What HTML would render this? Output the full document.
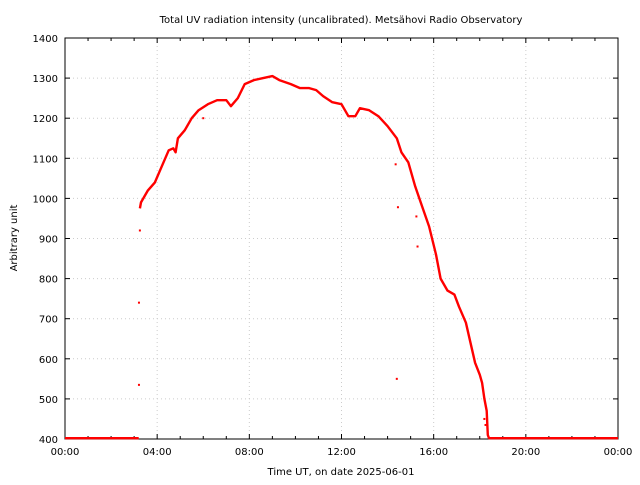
<!DOCTYPE html>
<html><head><meta charset="utf-8"><style>
body{margin:0;background:#fff}
svg text{font-family:"DejaVu Sans","Liberation Sans",sans-serif;font-size:10px;fill:#000}
</style></head><body>
<svg id="c" width="640" height="480" xmlns="http://www.w3.org/2000/svg">
<rect width="640" height="480" fill="#fff"/>
<text x="341" y="23" text-anchor="middle">Total UV radiation intensity (uncalibrated). Metsähovi Radio Observatory</text>
<text x="341" y="475" text-anchor="middle">Time UT, on date 2025-06-01</text>
<text transform="translate(17,238) rotate(-90)" text-anchor="middle">Arbitrary unit</text>
<g id="grid"></g><g id="axes"></g><g id="marks"></g>
</svg>
<script>
const hours=[0,3.2,3.25,3.3,3.6,3.9,4.2,4.5,4.7,4.8,4.9,5.2,5.5,5.8,6.2,6.6,7.0,7.2,7.5,7.8,8.2,8.6,9.0,9.3,9.8,10.2,10.6,10.9,11.2,11.6,12.0,12.3,12.6,12.8,13.2,13.6,14.0,14.4,14.6,14.9,15.2,15.5,15.8,16.1,16.3,16.6,16.9,17.1,17.4,17.6,17.8,18.0,18.1,18.2,18.3,18.35,18.4,24];
const values=[402,402,975,990,1020,1040,1080,1120,1125,1115,1150,1170,1200,1220,1235,1245,1245,1230,1250,1285,1295,1300,1305,1295,1285,1275,1275,1270,1255,1240,1235,1205,1205,1225,1220,1205,1180,1150,1115,1090,1030,980,930,860,800,770,760,730,690,640,590,560,540,500,470,410,402,402];
const outlierHours=[3.21,3.21,3.25,6.0,14.4,14.45,15.25,15.3,14.35,18.2,18.25];
const outlierValues=[535,740,920,1200,550,978,955,880,1085,450,435];
const xTicks=[0,4,8,12,16,20,24];
const xTickLabels=["00:00","04:00","08:00","12:00","16:00","20:00","00:00"];
const yTicks=[400,500,600,700,800,900,1000,1100,1200,1300,1400];

const L=65,R=618,T=38,B=439;
const X=h=>L+h*(R-L)/24, Y=v=>B-(v-400)*(B-T)/1000;
const NS="http://www.w3.org/2000/svg";
function mk(tag,attrs,parent,text){const e=document.createElementNS(NS,tag);for(const k in attrs)e.setAttribute(k,attrs[k]);if(text!==undefined)e.textContent=text;document.getElementById(parent).appendChild(e);return e;}
yTicks.forEach((v,i)=>{
  if(v>400&&v<1400){const g=mk('line',{x1:L,x2:R,y1:Y(v),y2:Y(v),stroke:'#ccc','stroke-dasharray':'1,3'},'grid');
  
  }
  const t=mk('text',{x:L-7,y:Y(v)+4,'text-anchor':'end'},'axes',String(v));
  
  
  mk('line',{x1:L,x2:L+5,y1:Y(v),y2:Y(v),stroke:'#000'},'axes');
  mk('line',{x1:R,x2:R-5,y1:Y(v),y2:Y(v),stroke:'#000'},'axes');
});
xTicks.forEach((h,i)=>{
  if(h>0&&h<24){const g=mk('line',{x1:X(h),x2:X(h),y1:T,y2:B,stroke:'#ccc','stroke-dasharray':'1,3'},'grid');
  
  }
  const t=mk('text',{x:X(h),y:B+16,'text-anchor':'middle'},'axes',xTickLabels[i]);
  
  
});
for(let h=0;h<=24;h++){const len=h%4===0?5:3;
  mk('line',{x1:X(h),x2:X(h),y1:B,y2:B-len,stroke:'#000'},'axes');
  mk('line',{x1:X(h),x2:X(h),y1:T,y2:T+len,stroke:'#000'},'axes');}
const fr=mk('rect',{x:L,y:T,width:R-L,height:B-T,fill:'none',stroke:'#000'},'axes');


// split into segments where big jumps occur (points are not connected there)
let segs=[[0]];
for(let i=1;i<hours.length;i++){
  if(Math.abs(values[i]-values[i-1])>200) segs.push([]);
  segs[segs.length-1].push(i);
}
segs.forEach(s=>{
  const pts=s.map(i=>X(hours[i]).toFixed(1)+','+Y(values[i]).toFixed(1)).join(' ');
  const pl=mk('polyline',{points:pts,fill:'none',stroke:'#f00','stroke-width':2.4,'stroke-linejoin':'round'},'marks');
  
  
});
outlierHours.forEach((h,i)=>{const c=mk('rect',{x:X(h)-1,y:Y(outlierValues[i])-1,width:2,height:2,fill:'#f00'},'marks');
  
  });
</script>
</body></html>
